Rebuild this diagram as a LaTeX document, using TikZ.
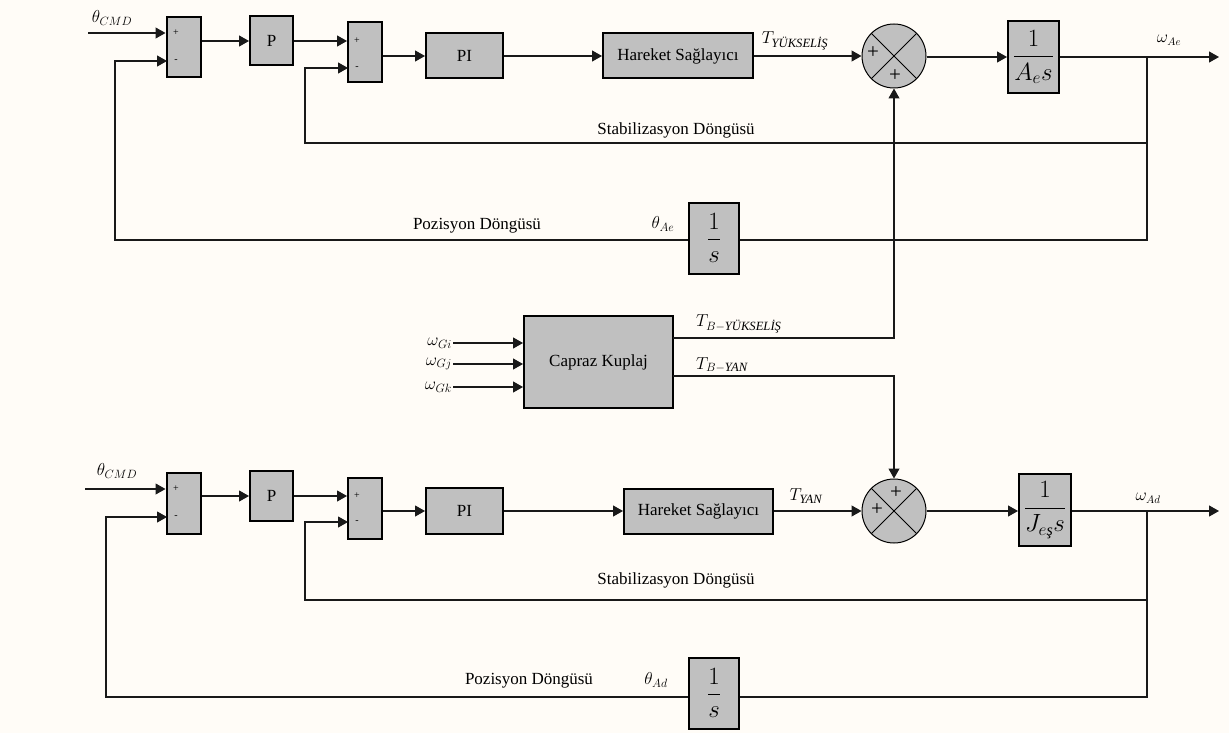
\documentclass[tikz,border=0pt]{standalone}
\usepackage{amsmath}
\usepackage{fontspec}
\setmainfont{Liberation Serif}
\usetikzlibrary{arrows.meta,positioning}
\definecolor{paper}{RGB}{255,252,247}
\definecolor{blockgray}{RGB}{192,192,192}
\definecolor{wirecol}{RGB}{25,25,25}

\begin{document}
\begin{tikzpicture}[x=1pt, y=-1pt, >={Triangle[length=10pt,width=11pt]},
    block/.style={draw=black, line width=2pt, fill=blockgray, inner sep=0pt, font=\fontsize{17}{19}\selectfont},
    sumbox/.style={block, minimum width=34pt, minimum height=60pt},
    summer/.style={draw=black, line width=1pt, fill=blockgray, circle, minimum size=64pt, inner sep=0pt},
    wire/.style={draw=wirecol, line width=1.1pt},
    sig/.style={font=\fontsize{18}{20}\selectfont, inner sep=1pt},
    txt/.style={font=\fontsize{17}{19}\selectfont, inner sep=1pt},
    sgn/.style={font=\fontsize{10}{11}\selectfont, inner sep=0pt},
    pls/.style={font=\fontsize{21}{22}\selectfont, inner sep=0pt},
    frac/.style={block, font=\fontsize{23}{26}\selectfont}]

    \useasboundingbox (0,0) rectangle (1229,733);
    \fill[paper] (0,0) rectangle (1229,733);

    % Upper loop: blocks
    \node[sumbox] (sA1) at (183.5,47) {};
    \node[sgn] (sA1p) at (176,33) {+};
    \node[sgn] (sA1m) at (176,61) {-};
    \node[block, minimum width=43pt, minimum height=49pt] (pA) at (271.5,41) {P};
    \node[sumbox] (sA2) at (365,52) {};
    \node[sgn] (sA2p) at (357,41) {+};
    \node[sgn] (sA2m) at (357,68) {-};
    \node[block, minimum width=77pt, minimum height=45pt] (piA) at (464.5,56) {PI};
    \node[block, minimum width=150pt, minimum height=45pt] (harA) at (678,56) {Hareket Sağlayıcı};
    \node[summer] (cA) at (894,56) {};
    \draw[line width=0.8pt] (cA.north west) -- (cA.south east) (cA.north east) -- (cA.south west);
    \node[pls] (cAp1) at (873,53) {+};
    \node[pls] (cAp2) at (895,76) {+};
    \node[frac, minimum width=51pt, minimum height=72pt] (intA) at (1033.5,57) {$\dfrac{1}{A_e s}$};
    \node[frac, minimum width=50pt, minimum height=71pt] (intgA) at (714,238) {$\dfrac{1}{s}$};

    \coordinate (inA) at (88,33);
    \coordinate (mA1) at (167,61);
    \coordinate (mA2) at (348,68);
    \coordinate (brA) at (1147,57);
    \coordinate (outA) at (1219,57);
    \coordinate (stabA) at (305,143);
    \coordinate (posA) at (115,240);

    % Upper loop: forward path
    \draw[wire,->] (inA) -- (inA -| sA1.west);
    \draw[wire,->] (sA1.east |- pA) -- (pA.west);
    \draw[wire,->] (pA.east) -- (pA.east -| sA2.west);
    \draw[wire,->] (sA2.east |- piA) -- (piA.west);
    \draw[wire,->] (piA.east) -- (harA.west);
    \draw[wire,->] (harA.east) -- (cA.west);
    \draw[wire,->] (cA.east |- intA) -- (intA.west);
    \draw[wire,->] (intA.east) -- (outA);

    % Upper loop: feedback
    \draw[wire] (brA) -- (brA |- posA) -- (posA -| intgA.east);
    \draw[wire,->] (brA |- stabA) -- (stabA) |- (mA2);
    \draw[wire,->] (posA -| intgA.west) -- (posA) |- (mA1);

    \node[sig] (thA) at (112,18) {$\theta_{CMD}$};
    \node[sig] (tyA) at (795,41) {$T_{\textit{YÜKSELİŞ}}$};
    \node[sig, font=\fontsize{16}{18}\selectfont] (wA) at (1169,40) {$\omega_{Ae}$};
    \node[txt] (stabAL) at (676,130) {Stabilizasyon Döngüsü};
    \node[txt] (posAL) at (477,226) {Pozisyon Döngüsü};
    \node[sig] (thAe) at (663,224) {$\theta_{Ae}$};

    % Cross coupling
    \node[block, minimum width=149pt, minimum height=92pt] (cap) at (598.5,362) {Capraz Kuplaj};
    \coordinate (gi) at (453,343);
    \coordinate (gj) at (453,364);
    \coordinate (gk) at (453,387);
    \draw[wire,->] (gi) -- (gi -| cap.west);
    \draw[wire,->] (gj) -- (gj -| cap.west);
    \draw[wire,->] (gk) -- (gk -| cap.west);
    \node[sig, anchor=east] (giL) at (gi) {$\omega_{Gi}$};
    \node[sig, anchor=east] (gjL) at (gj) {$\omega_{Gj}$};
    \node[sig, anchor=east] (gkL) at (gk) {$\omega_{Gk}$};
    \coordinate (capY) at (673,338);
    \coordinate (capN) at (673,376);
    \node[summer] (cB) at (894,511) {};
    \draw[wire,->] (capY) -| (cA.south);
    \draw[wire,->] (capN) -| (cB.north);
    \node[sig, anchor=west] (tbyL) at (695,324) {$T_{B-\textit{YÜKSELİŞ}}$};
    \node[sig, anchor=west] (tbnL) at (695,365) {$T_{B-\textit{YAN}}$};

    % Lower loop: blocks
    \node[sumbox, minimum height=61pt] (sB1) at (183.5,503.5) {};
    \node[sgn] (sB1p) at (176,489) {+};
    \node[sgn] (sB1m) at (176,517) {-};
    \node[block, minimum width=43pt, minimum height=50pt] (pB) at (271.5,496) {P};
    \node[sumbox, minimum height=61pt] (sB2) at (365,508.5) {};
    \node[sgn] (sB2p) at (357,496) {+};
    \node[sgn] (sB2m) at (357,522) {-};
    \node[block, minimum width=77pt, minimum height=46pt] (piB) at (464.5,511) {PI};
    \node[block, minimum width=149pt, minimum height=45pt] (harB) at (698.5,511) {Hareket Sağlayıcı};
    \draw[line width=0.8pt] (cB.north west) -- (cB.south east) (cB.north east) -- (cB.south west);
    \node[pls] (cBp1) at (896,493) {+};
    \node[pls] (cBp2) at (877,510) {+};
    \node[frac, minimum width=52pt, minimum height=72pt] (intB) at (1045,510) {$\dfrac{1}{J_{e\textit{ş}} s}$};
    \node[frac, minimum width=50pt, minimum height=71pt] (intgB) at (714,693) {$\dfrac{1}{s}$};

    \coordinate (inB) at (85,489);
    \coordinate (mB1) at (167,517);
    \coordinate (mB2) at (348,522);
    \coordinate (brB) at (1147,511);
    \coordinate (outB) at (1219,511);
    \coordinate (stabB) at (305,600);
    \coordinate (posB) at (106,697);

    % Lower loop: forward path
    \draw[wire,->] (inB) -- (inB -| sB1.west);
    \draw[wire,->] (sB1.east |- pB) -- (pB.west);
    \draw[wire,->] (pB.east) -- (pB.east -| sB2.west);
    \draw[wire,->] (sB2.east |- piB) -- (piB.west);
    \draw[wire,->] (piB.east) -- (harB.west);
    \draw[wire,->] (harB.east) -- (cB.west);
    \draw[wire,->] (cB.east) -- (cB.east -| intB.west);
    \draw[wire,->] (intB.east |- brB) -- (outB);

    % Lower loop: feedback
    \draw[wire] (brB) -- (brB |- posB) -- (posB -| intgB.east);
    \draw[wire,->] (brB |- stabB) -- (stabB) |- (mB2);
    \draw[wire,->] (posB -| intgB.west) -- (posB) |- (mB1);

    \node[sig] (thB) at (117,471) {$\theta_{CMD}$};
    \node[sig] (tyB) at (806,496) {$T_{\textit{YAN}}$};
    \node[sig, font=\fontsize{16}{18}\selectfont] (wB) at (1148,498) {$\omega_{Ad}$};
    \node[txt] (stabBL) at (676,580) {Stabilizasyon Döngüsü};
    \node[txt] (posBL) at (529,681) {Pozisyon Döngüsü};
    \node[sig] (thAd) at (656,680) {$\theta_{Ad}$};
\end{tikzpicture}
\end{document}
